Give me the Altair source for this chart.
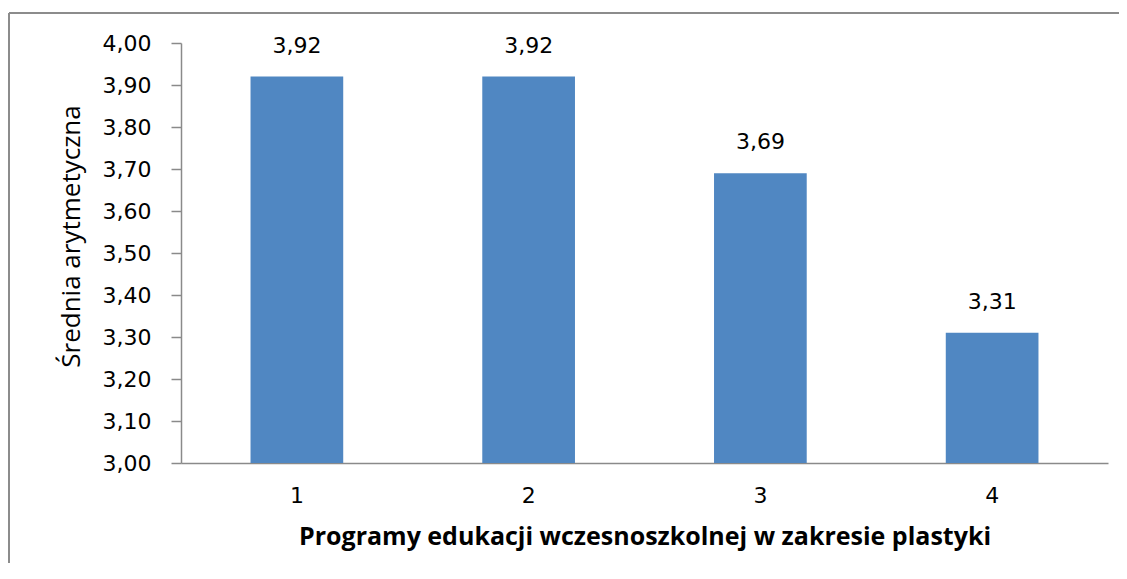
import altair as alt
import pandas as pd

categories = ["1", "2", "3", "4"]
values = [3.92, 3.92, 3.69, 3.31]
labels = ["3,92", "3,92", "3,69", "3,31"]

df = pd.DataFrame({"program": categories, "mean": values, "label": labels})

W, H = 927, 420
PL, PT = 173, 35

base = alt.Chart(df)

bars = base.mark_bar(color="#5087C2", clip=True).encode(
    x=alt.X("program:N", sort=categories,
            scale=alt.Scale(paddingInner=0.6, paddingOuter=0.3),
            axis=alt.Axis(title="Programy edukacji wczesnoszkolnej w zakresie plastyki",
                          labelAngle=0, ticks=False, labelPadding=22,
                          labelFont="DejaVu Sans", labelFontSize=22, labelColor="#000000",
                          titleFont="Open Sans", titleFontWeight="bold", titleFontSize=25,
                          titleColor="#000000", titlePadding=18,
                          domainColor="#8A8A8A", domainWidth=1.5)),
    y=alt.Y("mean:Q", scale=alt.Scale(domain=[3.0, 4.0], zero=False, nice=False),
            axis=alt.Axis(title="Średnia arytmetyczna", grid=False,
                          values=[3.0, 3.1, 3.2, 3.3, 3.4, 3.5, 3.6, 3.7, 3.8, 3.9, 4.0],
                          labelExpr="replace(format(datum.value, '.2f'), '.', ',')",
                          tickSize=10, tickColor="#8A8A8A", domainColor="#8A8A8A",
                          domainWidth=1.5, tickWidth=1.5,
                          labelPadding=20, labelFont="DejaVu Sans", labelFontSize=22,
                          labelColor="#000000",
                          titleFont="Open Sans", titleFontWeight="normal", titleFontSize=26,
                          titleColor="#000000", titleX=-97, titleY=193)),
)

text = base.mark_text(dy=-19, baseline="bottom", font="DejaVu Sans", fontSize=22,
                      color="#000000").encode(
    x=alt.X("program:N", sort=categories),
    y="mean:Q",
    text="label:N",
)

border_top = base.mark_rule(color="#8C8C8C", strokeWidth=2).encode(
    x=alt.value(-172), x2=alt.value(960), y=alt.value(-30)
)
border_left = base.mark_rule(color="#8C8C8C", strokeWidth=2).encode(
    x=alt.value(-172), y=alt.value(-30), y2=alt.value(560)
)

chart = alt.layer(bars, text, border_top, border_left).properties(
    width=W, height=H,
    autosize=alt.AutoSizeParams(type="none"),
    padding={"left": PL, "top": PT, "right": 11, "bottom": 100},
).configure_view(stroke=None, strokeWidth=0)

chart.save("out.html", embed_options={"renderer": "svg", "actions": False})
